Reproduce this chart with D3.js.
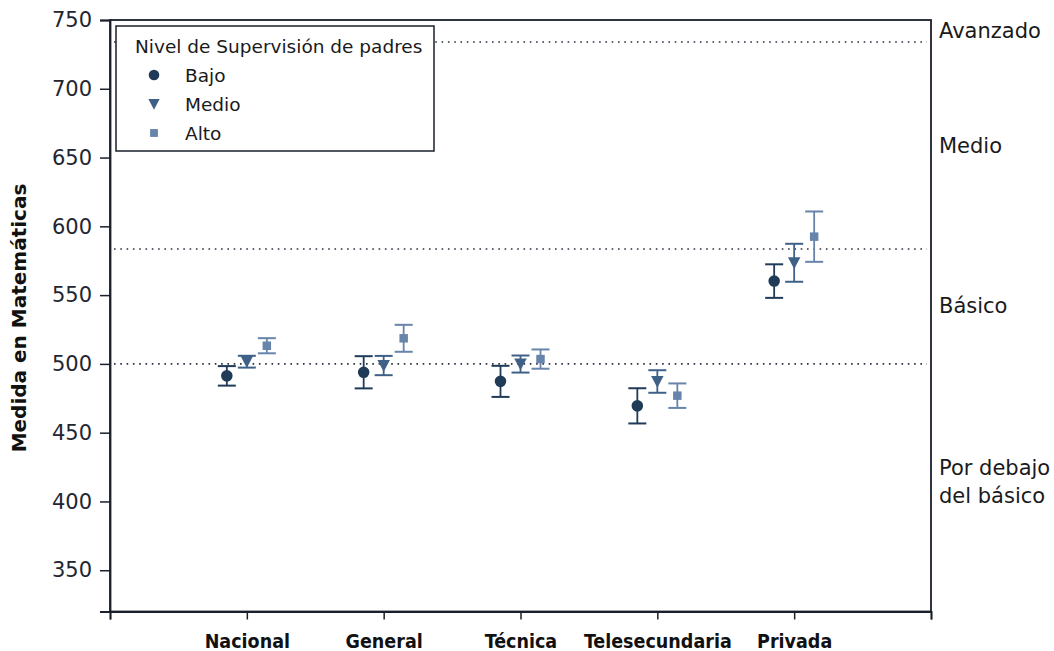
<!DOCTYPE html>
<html>
<head>
<meta charset="utf-8">
<script src="https://cdn.jsdelivr.net/npm/d3@7"></script>
<style>
  html, body { margin: 0; padding: 0; background: #ffffff; }
  svg { display: block; }
</style>
</head>
<body>
<svg id="chart" width="1054" height="651"></svg>
<script>
// School types along the x axis
const categories = ["Nacional", "General", "Técnica", "Telesecundaria", "Privada"];

// Parental supervision levels
const levels = ["Bajo", "Medio", "Alto"];

// Mean math score per school type, one array per level
const meanBajo  = [491.3, 493.9, 487.3, 469.5, 560.2];
const meanMedio = [501.6, 498.8, 499.9, 487.2, 573.5];
const meanAlto  = [513.2, 518.6, 503.5, 476.9, 592.5];

// Half-width of the confidence interval for each mean
const ciBajo  = [7.1, 11.7, 11.3, 12.8, 12.2];
const ciMedio = [4.3, 7.0, 6.2, 8.2, 13.8];
const ciAlto  = [5.5, 9.8, 7.0, 8.9, 18.3];

// Achievement level cut points and their names
const cutPoints = [500, 583.5, 734];
const bandNames = ["Por debajo|del básico", "Básico", "Medio", "Avanzado"];

const yTicks = [350, 400, 450, 500, 550, 600, 650, 700, 750];
const yDomain = [320, 750];

const colors = { Bajo: "#1f3b58", Medio: "#3f6188", Alto: "#6784ab" };
const symbols = { Bajo: d3.symbolCircle, Medio: "triDown", Alto: d3.symbolSquare };

const svg = d3.select("#chart");
const plotLeft = 110, plotRight = 931, plotTop = 20, plotBottom = 611.5;

const x = d3.scaleLinear().domain([0, categories.length + 1]).range([plotLeft, plotRight]);
const y = d3.scaleLinear().domain(yDomain).range([plotBottom, plotTop]);

const series = [
  { level: "Bajo",  mean: meanBajo,  ci: ciBajo,  offset: -20 },
  { level: "Medio", mean: meanMedio, ci: ciMedio, offset: 0 },
  { level: "Alto",  mean: meanAlto,  ci: ciAlto,  offset: 20 }
];

const font = "'DejaVu Sans', Verdana, sans-serif";
const axisColor = "#1a1f2b";

// Dotted cut-point lines
svg.append("g").selectAll("line").data(cutPoints).join("line")
  .attr("x1", plotLeft + 4).attr("x2", plotRight - 4)
  .attr("y1", d => y(d)).attr("y2", d => y(d))
  .attr("stroke", "#2b3140").attr("stroke-width", 1.6)
  .attr("stroke-dasharray", "1.6 4.7");

// Plot frame
svg.append("rect")
  .attr("x", plotLeft).attr("y", plotTop)
  .attr("width", plotRight - plotLeft).attr("height", plotBottom - plotTop)
  .attr("fill", "none").attr("stroke", axisColor).attr("stroke-width", 1.8);

// Y axis
const yAxis = svg.append("g")
  .attr("transform", `translate(${plotLeft},0)`)
  .call(d3.axisLeft(y).tickValues(yTicks).tickSize(10).tickPadding(8).tickFormat(d3.format("d")));
yAxis.select(".domain").attr("stroke", axisColor).attr("stroke-width", 1.8);
yAxis.selectAll(".tick line").attr("stroke", axisColor).attr("stroke-width", 1.5);
yAxis.selectAll(".tick text")
  .attr("font-family", font).attr("font-size", 21).attr("fill", "#222631");

// X axis: ticks between groups, labels under group centers
const xAxis = svg.append("g")
  .attr("transform", `translate(0,${plotBottom})`)
  .call(d3.axisBottom(x).tickValues(d3.range(0, categories.length + 2)).tickSize(8)
    .tickFormat(d => categories[d - 1] || ""));
xAxis.select(".domain").attr("stroke", axisColor).attr("stroke-width", 1.8);
xAxis.selectAll(".tick line").attr("stroke", axisColor).attr("stroke-width", 1.5);
xAxis.selectAll(".tick text")
  .attr("font-family", "'DejaVu Sans Condensed', 'DejaVu Sans', sans-serif")
  .attr("font-weight", "bold").attr("font-size", 19.5).attr("fill", "#111")
  .attr("dy", 0).attr("y", 36);

// Y axis title
svg.append("text")
  .attr("transform", "translate(26,318) rotate(-90)")
  .attr("text-anchor", "middle")
  .attr("font-family", font).attr("font-weight", "bold").attr("font-size", 20)
  .attr("fill", "#111")
  .text("Medida en Matemáticas");

// Achievement band labels on the right
const bandEdges = [yDomain[0], ...cutPoints, yDomain[1]];
bandNames.forEach((name, i) => {
  const mid = (bandEdges[i] + bandEdges[i + 1]) / 2;
  const lines = name.split("|");
  const shift = lines.length > 1 ? -6 : 0;
  const t = svg.append("text")
    .attr("x", 939)
    .attr("font-family", font).attr("font-size", 21).attr("fill", "#1a1a1a");
  lines.forEach((ln, j) => {
    t.append("tspan").attr("x", 939)
      .attr("y", y(mid) + 7 + shift + (j - (lines.length - 1) / 2) * 28)
      .text(ln);
  });
});

function markerPath(kind, size) {
  if (kind === "triDown") {
    const h = size;
    return `M${-h * 0.5},${-h * 0.45} L${h * 0.5},${-h * 0.45} L0,${h * 0.5} Z`;
  }
  return d3.symbol().type(kind).size(size)();
}
const markerSize = { Bajo: 105, Medio: 12.5, Alto: 72 };

// Error bars and markers
series.forEach(s => {
  const g = svg.append("g").attr("fill", colors[s.level]).attr("stroke", colors[s.level]);
  const pts = s.mean.map((m, i) => ({ i, m, lo: m - s.ci[i], hi: m + s.ci[i] }));
  const cx = d => x(d.i + 1) + s.offset;
  g.selectAll("line.v").data(pts).join("line").attr("class", "v")
    .attr("x1", cx).attr("x2", cx)
    .attr("y1", d => y(d.lo)).attr("y2", d => y(d.hi)).attr("stroke-width", 1.8);
  ["lo", "hi"].forEach(k => {
    g.selectAll("line." + k).data(pts).join("line").attr("class", k)
      .attr("x1", d => cx(d) - 9).attr("x2", d => cx(d) + 9)
      .attr("y1", d => y(d[k])).attr("y2", d => y(d[k])).attr("stroke-width", 2);
  });
  g.selectAll("path").data(pts).join("path")
    .attr("transform", d => `translate(${cx(d)},${y(d.m)})`)
    .attr("d", markerPath(symbols[s.level], markerSize[s.level]))
    .attr("stroke", "none");
});

// Legend
const lg = svg.append("g").attr("transform", "translate(116,26)");
lg.append("rect").attr("width", 318).attr("height", 125)
  .attr("fill", "#fff").attr("stroke", axisColor).attr("stroke-width", 1.5);
lg.append("text").attr("x", 19).attr("y", 27)
  .attr("font-family", font).attr("font-size", 18.5).attr("fill", "#1a1a1a")
  .text("Nivel de Supervisión de padres");
levels.forEach((lv, i) => {
  const yy = 49 + i * 29;
  lg.append("path").attr("transform", `translate(38,${yy})`)
    .attr("d", markerPath(symbols[lv], markerSize[lv] * (lv === "Medio" ? 0.9 : 0.85)))
    .attr("fill", colors[lv]);
  lg.append("text").attr("x", 69).attr("y", yy + 7)
    .attr("font-family", font).attr("font-size", 18.5).attr("fill", "#1a1a1a")
    .text(lv);
});
</script>
</body>
</html>
